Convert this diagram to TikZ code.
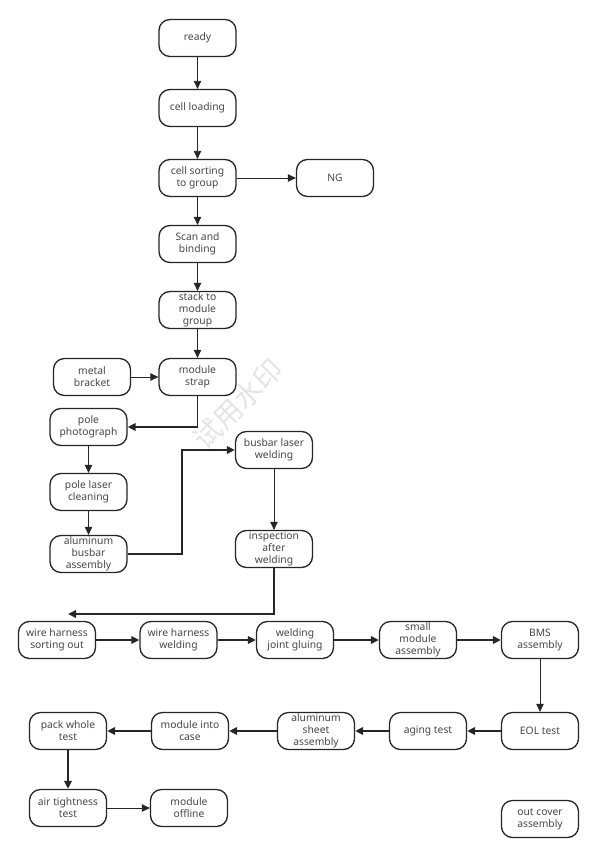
\documentclass[tikz,border=0pt]{standalone}
\usepackage{fontspec}
\setmainfont{Noto Sans}
\newfontfamily\cjk{Noto Sans CJK SC}
\usetikzlibrary{arrows.meta}
\begin{document}
\begin{tikzpicture}[x=1pt,y=-1pt,
  box/.style={draw=black!85, line width=1.3pt, rounded corners=11pt, minimum width=77pt, minimum height=37pt, inner sep=1pt, align=center, font=\fontsize{10.3}{12}\selectfont, text=black!72},
  thin/.style={draw=black!85, line width=0.9pt, -{Triangle[length=8pt,width=7.5pt]}},
  thick/.style={draw=black!85, line width=1.9pt, -{Triangle[length=8pt,width=7.5pt]}}]
\useasboundingbox[fill=white] (0,0) rectangle (598,853);
% watermark
\node[text=black!10, rotate=45, font=\cjk\fontsize{28}{28}\selectfont] (wm) at (238,404) {试用水印};
% column nodes
\node[box] (ready) at (197.5,38) {ready};
\node[box] (load) at (197.5,108) {cell loading};
\node[box] (sort) at (197.5,178) {cell sorting\\to group};
\node[box] (ng) at (335,178) {NG};
\node[box] (scan) at (197.5,244) {Scan and\\binding};
\node[box] (stack) at (197.5,310) {stack to\\module\\group};
\node[box] (metal) at (92,377) {metal\\bracket};
\node[box] (strap) at (197.5,377) {module\\strap};
\node[box] (photo) at (88.5,427) {pole\\photograph};
\node[box] (busweld) at (274,450) {busbar laser\\welding};
\node[box] (clean) at (88.5,492) {pole laser\\cleaning};
\node[box] (albus) at (88.5,554) {aluminum\\busbar\\assembly};
\node[box] (insp) at (274,549) {inspection\\after\\welding};
% row 1
\node[box] (wsort) at (57,640) {wire harness\\sorting out};
\node[box] (wweld) at (178.5,640) {wire harness\\welding};
\node[box] (glue) at (295,640) {welding\\joint gluing};
\node[box] (small) at (418,640) {small\\module\\assembly};
\node[box] (bms) at (540,640) {BMS\\assembly};
% row 2
\node[box] (eol) at (540,731) {EOL test};
\node[box] (aging) at (428,731) {aging test};
\node[box] (alsheet) at (316,731) {aluminum\\sheet\\assembly};
\node[box] (case) at (190,731) {module into\\case};
\node[box] (pack) at (68,731) {pack whole\\test};
% row 3
\node[box] (air) at (68,808) {air tightness\\test};
\node[box] (offline) at (189,808) {module\\offline};
\node[box] (cover) at (540,819) {out cover\\assembly};
% connectors
\draw[thin] (ready) -- (load);
\draw[thin] (load) -- (sort);
\draw[thin] (sort) -- (ng);
\draw[thin] (sort) -- (scan);
\draw[thin] (scan) -- (stack);
\draw[thin] (stack) -- (strap);
\draw[thin] (metal) -- (strap);
\draw[thick] (strap.south) |- (photo.east);
\draw[thin] (photo) -- (clean);
\draw[thin] (clean) -- (albus);
\draw[thick] (albus.east) -- (182,554) |- (busweld.west);
\draw[thin] (busweld) -- (insp);
\coordinate (rowin) at (68,614);
\draw[thick] (insp.south) |- (rowin);
\draw[thick] (wsort) -- (wweld);
\draw[thick] (wweld) -- (glue);
\draw[thick] (glue) -- (small);
\draw[thick] (small) -- (bms);
\draw[thin] (bms) -- (eol);
\draw[thick] (eol) -- (aging);
\draw[thick] (aging) -- (alsheet);
\draw[thick] (alsheet) -- (case);
\draw[thick] (case) -- (pack);
\draw[thick] (pack) -- (air);
\draw[thin] (air) -- (offline);
\end{tikzpicture}
\end{document}
